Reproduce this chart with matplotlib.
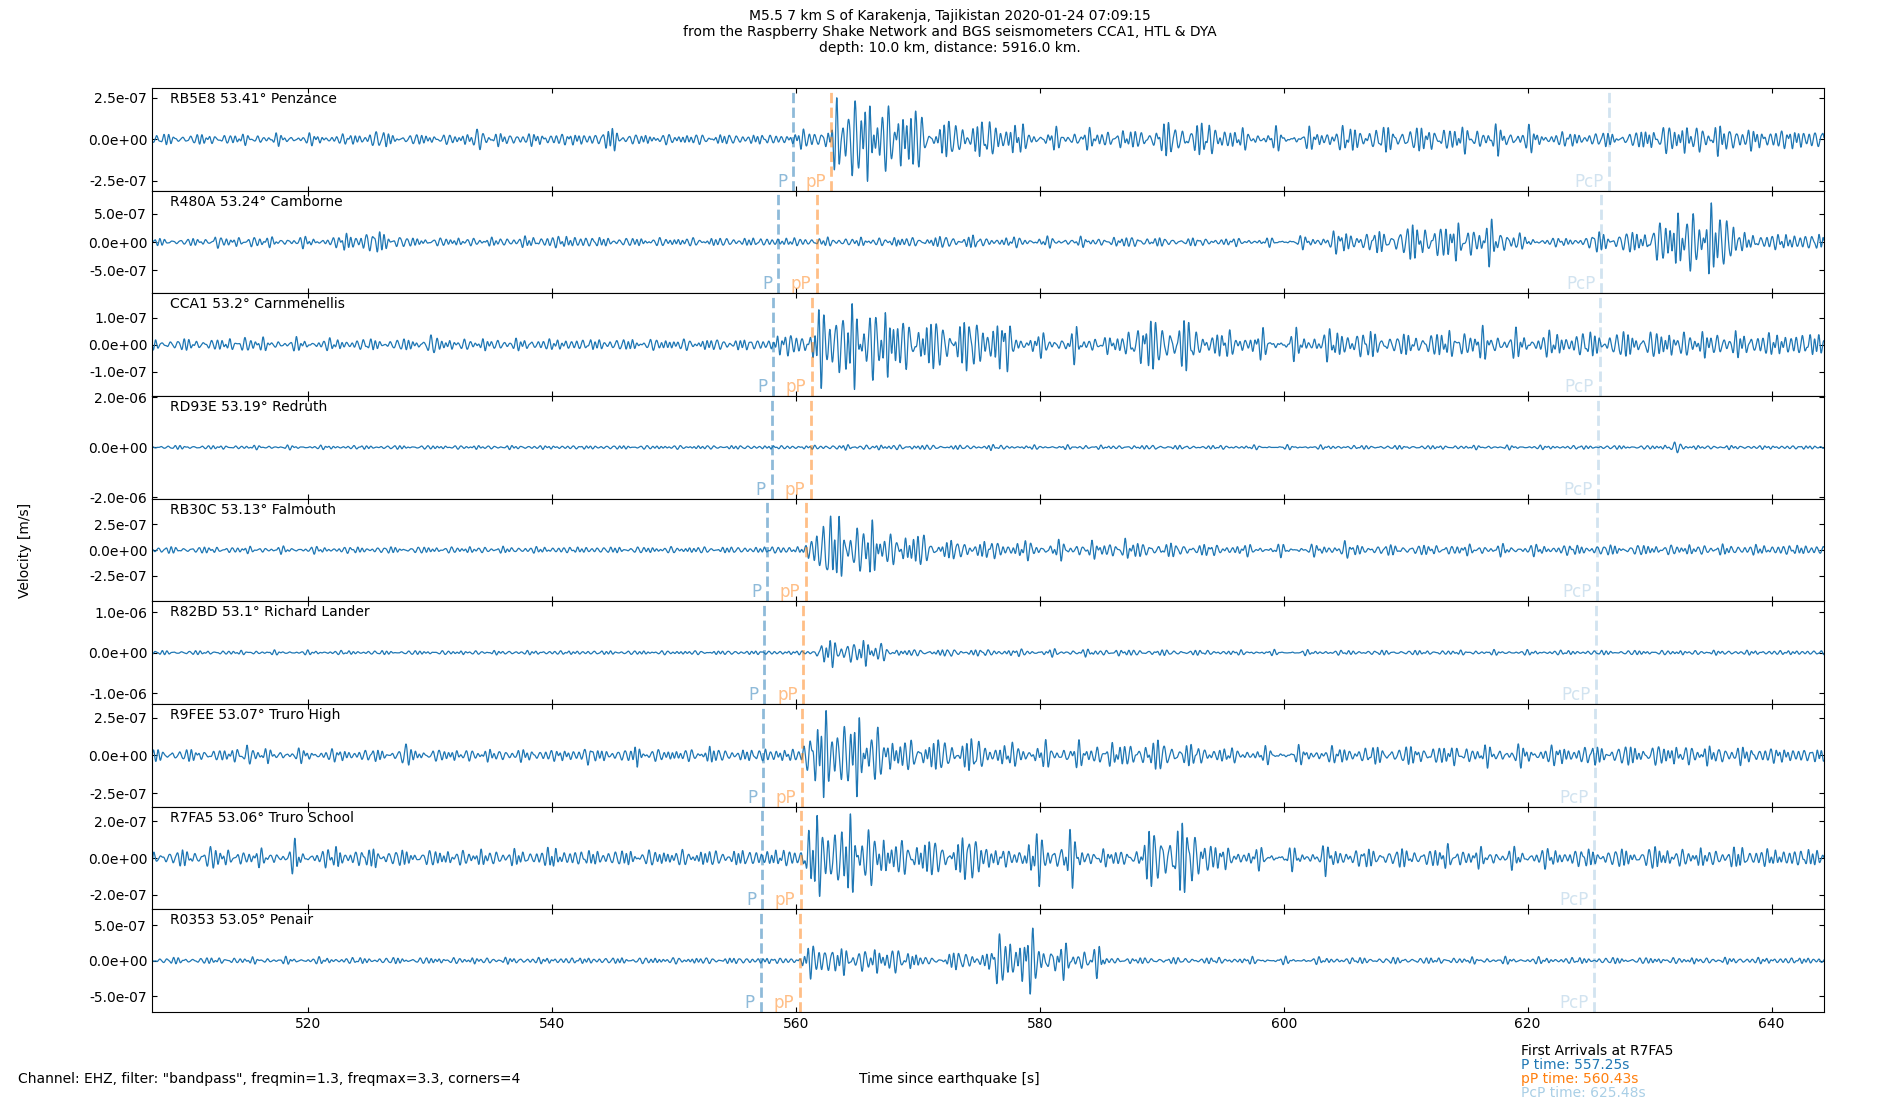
import numpy as np
import matplotlib
matplotlib.use('Agg')
import matplotlib.pyplot as plt

# stations, top to bottom (distance in degrees)
stations = ['RB5E8', 'R480A', 'CCA1', 'RD93E', 'RB30C', 'R82BD', 'R9FEE', 'R7FA5', 'R0353']
distances = ['53.41', '53.24', '53.2', '53.19', '53.13', '53.1', '53.07', '53.06', '53.05']
places = ['Penzance', 'Camborne', 'Carnmenellis', 'Redruth', 'Falmouth',
          'Richard Lander', 'Truro High', 'Truro School', 'Penair']

# predicted arrival times [s] per station
p_times = [559.8, 558.5, 558.1, 558.0, 557.6, 557.4, 557.3, 557.25, 557.1]
pp_times = [562.9, 561.7, 561.3, 561.2, 560.8, 560.6, 560.5, 560.43, 560.3]
pcp_times = [626.7, 626.0, 625.9, 625.8, 625.7, 625.6, 625.5, 625.48, 625.45]

# y half-range and tick of each panel [m/s]
y_half = [3.1e-7, 9.1e-7, 1.9e-7, 2.05e-6, 5.0e-7, 1.27e-6, 3.4e-7, 2.8e-7, 7.2e-7]
y_tick = [2.5e-7, 5e-7, 1e-7, 2e-6, 2.5e-7, 1e-6, 2.5e-7, 2e-7, 5e-7]

# amplitude envelopes: knot times [s], amplitudes [1e-8 m/s]
env_t = [
    [507, 524, 525.5, 527, 533, 533.8, 535, 544, 545, 546, 559.8, 560.3, 562.9, 563.5, 564.6,
     566, 570, 571, 572, 578, 579, 581.4, 589, 590, 595, 596, 603, 604, 620, 621, 629, 630,
     637, 638, 645],
    [507, 512, 512.4, 513, 515, 515.8, 516.8, 518, 518.5, 519, 522.5, 523, 527.4, 528, 535,
     540, 542, 545, 555, 568, 568.3, 568.8, 574.5, 575, 578, 586, 588, 589, 598.7, 603, 604,
     608.6, 609.5, 619, 619.6, 624.7, 625.5, 629.3, 630, 631.6, 632, 636.5, 636.9, 637.3, 645],
    [507, 514, 515, 516, 529, 530, 531, 555, 558.2, 558.5, 561.3, 561.8, 563.5, 564, 568,
     568.5, 573, 577.3, 577.8, 582.5, 583, 583.5, 586.9, 587.5, 592.3, 593, 600, 605, 610,
     615, 620, 630, 640, 645],
    [507, 555, 561.5, 562, 570, 575.5, 576, 576.5, 583, 583.5, 584, 589, 589.5, 590, 631,
     632, 633, 645],
    [507, 557.6, 558, 560.8, 561.2, 562.3, 562.9, 563.3, 566.4, 567, 570.5, 571, 575, 586.5,
     587, 587.5, 596, 604.5, 605, 605.5, 645],
    [507, 561.5, 562, 567, 567.5, 572.5, 572.8, 573.2, 584, 584.3, 584.6, 596, 645],
    [507, 514, 515, 516, 527.5, 528, 528.5, 542.5, 543, 543.5, 546.5, 547, 547.5, 552.5, 553,
     553.5, 557, 557.5, 558, 560.4, 561, 563.5, 565, 566.4, 567, 567.5, 571.9, 575.1, 575.5,
     582.8, 589, 590, 591, 596, 612, 622, 632, 645],
    [507, 511.5, 512, 512.5, 518.5, 519, 519.5, 522, 522.5, 523, 525, 525.5, 526, 539.5, 540,
     540.5, 555, 560.4, 561, 562.4, 564, 566.4, 567, 573.5, 574, 575.7, 576, 577.9, 578.5,
     583.3, 583.8, 588.2, 589, 590.8, 593.7, 594.2, 596, 603, 603.5, 604, 613, 613.5, 614,
     630, 630.5, 631, 637, 637.5, 638, 645],
    [507, 560.4, 561, 562.3, 563.7, 569.7, 570.2, 571.9, 572.5, 576, 576.5, 577.3, 577.6,
     577.9, 581.1, 581.6, 585, 585.5, 645],
]
env_a = [
    [2.5, 2.5, 5, 2.5, 2.5, 6.5, 3, 3, 7, 2.5, 2.5, 5, 5, 24, 26, 18, 16, 4.5, 9, 9, 4, 4.5,
     4.5, 8, 8, 4.5, 4.5, 6, 6, 3.5, 3.5, 7, 7, 5, 5],
    [5, 5, 15, 6, 6, 14, 6, 6, 12, 7, 7, 15, 15, 6, 6, 9, 9, 6, 6, 6, 12, 6, 10, 6, 7, 6, 9, 6,
     5, 9, 15, 15, 25, 27, 6, 6, 15, 15, 28, 30, 45, 50, 55, 12, 12],
    [1.7, 1.7, 3.2, 1.7, 1.7, 3.2, 1.7, 1.7, 1.7, 3.5, 3.5, 11, 13, 12, 11, 7.5, 7.5, 8, 3, 3,
     5, 2.5, 2.5, 7.5, 7.5, 4, 3.5, 4.5, 3, 4.5, 3.5, 4, 3.5, 3.5],
    [6, 6, 6, 8, 8, 6, 12, 6, 6, 12, 6, 6, 12, 6, 6, 22, 6, 6],
    [2.5, 2.5, 3, 3, 10, 37, 37, 22, 22, 13, 13, 8, 7, 6, 10, 6, 4, 4, 8, 4, 4],
    [4, 4, 25, 25, 6.5, 6.5, 10, 6.5, 6.5, 10, 6.5, 4.5, 4.5],
    [3.2, 3.2, 8, 3.2, 3.2, 7.5, 3.2, 3.2, 7.5, 3.2, 3.2, 7.5, 3.2, 3.2, 6, 3.2, 3.2, 5.5, 3.3,
     3.3, 18, 24, 20, 16, 16, 8.5, 8.5, 9, 6, 6, 6.5, 9, 6.5, 3.5, 5, 5, 5.5, 3.5],
    [3.5, 3.5, 7, 3.5, 3.5, 7.5, 3.5, 3.5, 8.5, 3.5, 3.5, 7, 3.5, 3.5, 7, 3.5, 3.5, 4, 15, 18,
     17, 14, 8, 8, 11, 11, 3.6, 3.6, 9, 10, 3.6, 3.6, 13, 16, 13, 5.5, 4, 4, 6.7, 4, 4, 6.7,
     4, 4, 6.7, 4, 4, 6.7, 4, 4],
    [3.5, 3.5, 18, 22, 14, 14, 4, 4, 10, 10, 30, 32, 56, 32, 28, 16, 16, 3.5, 3.5],
]

ref_station = 'R7FA5'
ref_p, ref_pp, ref_pcp = 557.25, 560.43, 625.48

# pass band 1.3-3.3 Hz: frequencies that make up the wiggle under the envelope
band_freqs = [1.45, 1.83, 2.17, 2.61, 2.94, 3.27]
band_weights = [0.8, 1.0, 1.0, 0.9, 0.7, 0.5]

dt = 0.01
t = np.arange(507.2, 644.3, dt)


def trace(k):
    """band-limited wiggle shaped by the read-off envelope"""
    wig = sum(w * np.sin(2 * np.pi * f * t + 1.37 * (i + 1) * (k + 1))
              for i, (f, w) in enumerate(zip(band_freqs, band_weights)))
    wig = wig / (1.8 * wig.std())
    env = np.interp(t, env_t[k], env_a[k]) * 1e-8
    return env * wig


fig = plt.figure(figsize=(19, 11), dpi=100)
axes = fig.subplots(len(stations), 1, sharex=True)
fig.subplots_adjust(left=0.08, right=0.96, top=0.92, bottom=0.08, hspace=0)

for k, ax in enumerate(axes):
    ax.plot(t, trace(k), color='C0', lw=0.9)
    h = y_half[k]
    ax.set_ylim(-h, h)
    ax.set_yticks([-y_tick[k], 0, y_tick[k]])
    ax.set_yticklabels(['%.1e' % v for v in [-y_tick[k], 0, y_tick[k]]])
    ax.tick_params(direction='in', top=True, right=True)

    ax.axvline(p_times[k], color='C0', alpha=0.5, ls='--', lw=2)
    ax.axvline(pp_times[k], color='C1', alpha=0.5, ls='--', lw=2)
    ax.axvline(pcp_times[k], color='C0', alpha=0.2, ls='--', lw=2)
    for tt, lab, col, al in [(p_times[k], 'P', 'C0', 0.5), (pp_times[k], 'pP', 'C1', 0.5),
                             (pcp_times[k], 'PcP', 'C0', 0.2)]:
        ax.annotate(lab, xy=(tt, -h), xytext=(-4, 0), textcoords='offset points',
                    ha='right', va='bottom', color=col, alpha=al, fontsize=12)

    ax.text(0.011, 0.96, f'{stations[k]} {distances[k]}° {places[k]}',
            transform=ax.transAxes, ha='left', va='top', fontsize=10)

axes[-1].set_xlim(507.2, 644.3)
axes[-1].set_xticks([520, 540, 560, 580, 600, 620, 640])

fig.suptitle('M5.5 7 km S of Karakenja, Tajikistan 2020-01-24 07:09:15\n'
             'from the Raspberry Shake Network and BGS seismometers CCA1, HTL & DYA\n'
             'depth: 10.0 km, distance: 5916.0 km.', y=0.992, va='top', fontsize=10)
fig.text(0.0095, 0.5, 'Velocity [m/s]', rotation=90, ha='left', va='center', fontsize=10)
fig.text(0.4995, 0.019, 'Time since earthquake [s]', ha='center', va='center', fontsize=10)
fig.text(0.0095, 0.019, 'Channel: EHZ, filter: "bandpass", freqmin=1.3, freqmax=3.3, corners=4',
         ha='left', va='center', fontsize=10)

fig.text(0.8005, 0.0445, f'First Arrivals at {ref_station}', ha='left', va='center', fontsize=10)
fig.text(0.8005, 0.0318, f'P time: {ref_p:.2f}s', ha='left', va='center', color='C0', fontsize=10)
fig.text(0.8005, 0.0191, f'pP time: {ref_pp:.2f}s', ha='left', va='center', color='C1', fontsize=10)
fig.text(0.8005, 0.0064, f'PcP time: {ref_pcp:.2f}s', ha='left', va='center', color='#a9cfe6', fontsize=10)

fig.savefig('out.png', dpi=100)
plt.close(fig)
